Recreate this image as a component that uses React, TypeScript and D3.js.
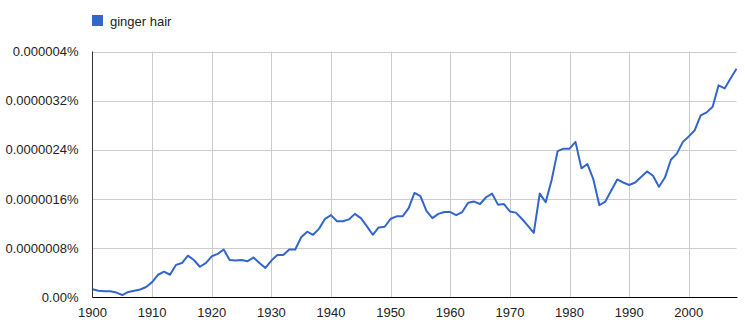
import React from "react";
import * as d3 from "d3";

const seriesName = "ginger hair";
const startYear = 1900;
// values in units of 0.0000001 %
const values: number[] = [
  1.35, 1.1, 1.0, 1.0, 0.8, 0.4, 0.9, 1.1, 1.3, 1.7,
  2.5, 3.7, 4.2, 3.7, 5.3, 5.6, 6.8, 6.1, 5.0, 5.6,
  6.7, 7.1, 7.8, 6.1, 6.0, 6.1, 5.9, 6.5, 5.6, 4.8,
  6.0, 6.9, 6.9, 7.8, 7.8, 9.8, 10.7, 10.2, 11.2, 12.8,
  13.4, 12.4, 12.4, 12.7, 13.6, 12.9, 11.6, 10.2, 11.4, 11.5,
  12.8, 13.2, 13.2, 14.5, 17.0, 16.5, 14.1, 12.9, 13.6, 13.9,
  13.9, 13.4, 13.9, 15.4, 15.6, 15.2, 16.3, 16.9, 15.1, 15.2,
  14.0, 13.8, 12.8, 11.7, 10.5, 16.9, 15.5, 19.1, 23.8, 24.2,
  24.2, 25.3, 21.0, 21.7, 19.2, 15.0, 15.6, 17.4, 19.2, 18.7,
  18.3, 18.7, 19.6, 20.5, 19.8, 18.0, 19.5, 22.4, 23.4, 25.3,
  26.2, 27.2, 29.6, 30.1, 31.0, 34.5, 34.0, 35.6, 37.2,
];
const yTicks = [0, 8, 16, 24, 32, 40];
const yTickLabels = ["0.00%", "0.0000008%", "0.0000016%", "0.0000024%", "0.0000032%", "0.000004%"];
const xTicks = [1900, 1910, 1920, 1930, 1940, 1950, 1960, 1970, 1980, 1990, 2000];

export default function App() {
  const W = 745, H = 327;
  const left = 92.5, right = 736.5, top = 51.5, bottom = 297.5;
  const data = values.map((v, i) => ({ year: startYear + i, v }));
  const x = d3.scaleLinear().domain([1900, 2008]).range([left, right]);
  const y = d3.scaleLinear().domain([0, 40]).range([bottom, top]);
  const line = d3.line<{ year: number; v: number }>().x(d => x(d.year)).y(d => y(d.v));
  const font = "Arial, 'Liberation Sans', sans-serif";
  return (
    <svg width={W} height={H} style={{ position: "absolute", left: 0, top: 0, background: "#fff" }} fontFamily={font}>
      <rect x={92} y={15} width={11} height={11} fill="#3366cc" />
      <text x={110} y={25.5} fontSize={13} fill="#222">{seriesName}</text>
      {yTicks.map((t, i) => (
        <g key={"y" + t}>
          {t > 0 && <line x1={left} x2={right} y1={Math.round(y(t)) + 0.5} y2={Math.round(y(t)) + 0.5} stroke="#cccccc" />}
          <text x={78.5} y={y(t) + 4.5} fontSize={13} fill="#222" textAnchor="end">{yTickLabels[i]}</text>
        </g>
      ))}
      {xTicks.map(t => (
        <g key={"x" + t}>
          {t > 1900 && <line x1={Math.round(x(t)) + 0.5} x2={Math.round(x(t)) + 0.5} y1={top} y2={bottom} stroke="#cccccc" />}
          <text x={x(t)} y={317} fontSize={13} fill="#222" textAnchor="middle">{t}</text>
        </g>
      ))}
      <path d={line(data) || ""} fill="none" stroke="#3366cc" strokeWidth={2} strokeLinejoin="round" />
      <line x1={left} x2={left} y1={top} y2={bottom} stroke="#333" />
      <line x1={left} x2={right + 1} y1={bottom} y2={bottom} stroke="#000" />
    </svg>
  );
}
